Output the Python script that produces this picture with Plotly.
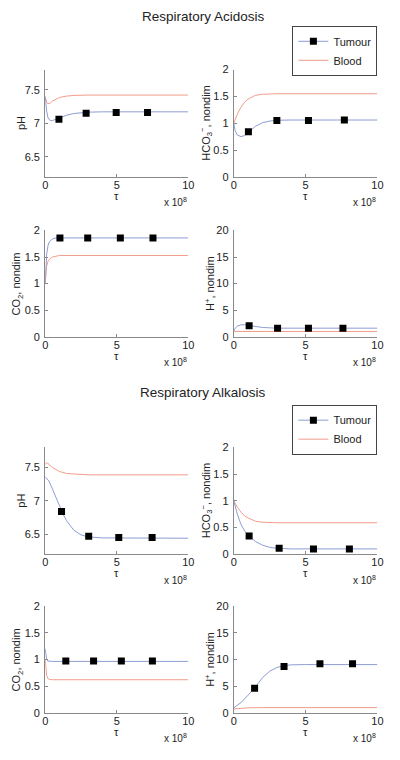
import plotly.graph_objects as go

# ---------------- data (tau in units of 1e8) ----------------
# Respiratory Acidosis
acid_ph_tau_t = [0, 0.1, 0.2, 0.35, 0.5, 0.75, 1.0, 1.5, 2.0, 2.5, 3, 4, 6, 10]
acid_ph_tumour = [7.40, 7.18, 7.08, 7.04, 7.04, 7.06, 7.08, 7.12, 7.145, 7.16, 7.165, 7.17, 7.17, 7.17]
acid_ph_tau_b = [0, 0.1, 0.2, 0.35, 0.5, 0.75, 1.0, 1.5, 2.0, 3, 10]
acid_ph_blood = [7.40, 7.31, 7.29, 7.30, 7.33, 7.36, 7.385, 7.405, 7.415, 7.42, 7.42]
acid_ph_mk_tau = [0.96, 2.86, 4.96, 7.15]
acid_ph_mk = [7.06, 7.15, 7.16, 7.16]

acid_hco3_tau_t = [0, 0.1, 0.25, 0.5, 0.75, 1.0, 1.5, 2.0, 2.5, 3, 4, 10]
acid_hco3_tumour = [1.0, 0.86, 0.78, 0.75, 0.77, 0.82, 0.94, 1.01, 1.04, 1.055, 1.06, 1.06]
acid_hco3_tau_b = [0, 0.25, 0.5, 0.75, 1.0, 1.5, 2.0, 2.5, 3, 10]
acid_hco3_blood = [1.0, 1.17, 1.30, 1.39, 1.45, 1.52, 1.54, 1.55, 1.55, 1.55]
acid_hco3_mk_tau = [1.02, 3.0, 5.2, 7.7]
acid_hco3_mk = [0.84, 1.05, 1.05, 1.06]

acid_co2_tau = [0, 0.05, 0.1, 0.2, 0.3, 0.5, 0.75, 1.0, 10]
acid_co2_tumour = [1.0, 1.35, 1.55, 1.72, 1.79, 1.84, 1.86, 1.86, 1.86]
acid_co2_blood = [1.0, 1.22, 1.33, 1.42, 1.46, 1.50, 1.52, 1.53, 1.53]
acid_co2_mk_tau = [1.03, 2.97, 5.25, 7.53]
acid_co2_mk = [1.86, 1.86, 1.86, 1.86]

acid_h_tau_t = [0, 0.1, 0.25, 0.5, 0.75, 1.0, 1.5, 2.0, 2.5, 3, 10]
acid_h_tumour = [1.1, 1.6, 2.0, 2.25, 2.25, 2.15, 1.9, 1.75, 1.68, 1.62, 1.62]
acid_h_tau_b = [0, 0.5, 1, 2, 10]
acid_h_blood = [1.0, 1.0, 1.0, 1.0, 1.0]
acid_h_mk_tau = [1.07, 3.05, 5.2, 7.6]
acid_h_mk = [2.05, 1.6, 1.6, 1.6]

# Respiratory Alkalosis
alk_ph_tau_t = [0, 0.25, 0.5, 0.75, 1.0, 1.25, 1.5, 1.75, 2.0, 2.5, 3.0, 4, 10]
alk_ph_tumour = [7.36, 7.30, 7.18, 7.05, 6.92, 6.80, 6.70, 6.62, 6.56, 6.49, 6.46, 6.445, 6.44]
alk_ph_tau_b = [0, 0.15, 0.5, 1.0, 1.5, 2.0, 3, 10]
alk_ph_blood = [7.55, 7.57, 7.50, 7.44, 7.41, 7.40, 7.39, 7.39]
alk_ph_mk_tau = [1.14, 3.04, 5.14, 7.47]
alk_ph_mk = [6.84, 6.47, 6.45, 6.45]

alk_hco3_tau = [0, 0.25, 0.5, 0.75, 1.0, 1.5, 2.0, 2.5, 3, 4, 10]
alk_hco3_tumour = [1.0, 0.75, 0.56, 0.44, 0.36, 0.24, 0.17, 0.13, 0.11, 0.10, 0.10]
alk_hco3_blood = [1.0, 0.88, 0.79, 0.72, 0.68, 0.62, 0.60, 0.59, 0.59, 0.59, 0.59]
alk_hco3_mk_tau = [1.07, 3.16, 5.55, 8.05]
alk_hco3_mk = [0.34, 0.11, 0.10, 0.10]

alk_co2_tau = [0, 0.05, 0.1, 0.2, 0.3, 0.5, 10]
alk_co2_tumour = [1.2, 1.08, 1.01, 0.97, 0.965, 0.965, 0.965]
alk_co2_blood = [1.0, 0.80, 0.70, 0.64, 0.625, 0.62, 0.62]
alk_co2_mk_tau = [1.44, 3.38, 5.32, 7.49]
alk_co2_mk = [0.97, 0.97, 0.97, 0.97]

alk_h_tau_t = [0, 0.5, 1.0, 1.5, 2.0, 2.5, 3.0, 3.5, 4.0, 5, 10]
alk_h_tumour = [0.9, 1.9, 3.3, 4.8, 6.6, 7.8, 8.5, 8.85, 9.0, 9.05, 9.05]
alk_h_tau_b = [0, 0.5, 1.0, 2.0, 10]
alk_h_blood = [0.7, 0.85, 0.92, 0.95, 0.95]
alk_h_mk_tau = [1.45, 3.5, 6.0, 8.27]
alk_h_mk = [4.6, 8.7, 9.2, 9.2]

ph_ticks = [6.5, 7, 7.5]
frac_ticks = [0, 0.5, 1, 1.5, 2]
h_ticks = [0, 5, 10, 15, 20]
tau_ticks = [0, 5, 10]

# ---------------- styling ----------------
BLUE = "#8c9dd2"
RED = "#f29c8a"
FONT = "Liberation Sans, Arial, sans-serif"
TXT = "#222222"
AXC = "#8a8a8a"
OFF = 8                      # default page body margin
WIN_W, WIN_H = 400, 760
W, H = WIN_W - OFF, WIN_H - OFF

# pixel geometry of panels in window coordinates
XL = (43, 189.5)
XR = (236, 383)
ROWS = [(64.5, 173.5), (228, 336), (448.5, 557), (610, 718)]

panels = [
    (acid_ph_tau_t, acid_ph_tumour, acid_ph_tau_b, acid_ph_blood, acid_ph_mk_tau, acid_ph_mk, [6.2, 7.8], ph_ticks, "pH", XL, ROWS[0], 18),
    (acid_hco3_tau_t, acid_hco3_tumour, acid_hco3_tau_b, acid_hco3_blood, acid_hco3_mk_tau, acid_hco3_mk, [0, 2], frac_ticks, "HCO<sub>3</sub><sup>−</sup>, nondim", XR, ROWS[0], 208),
    (acid_co2_tau, acid_co2_tumour, acid_co2_tau, acid_co2_blood, acid_co2_mk_tau, acid_co2_mk, [0, 2], frac_ticks, "CO<sub>2</sub>, nondim", XL, ROWS[1], 14),
    (acid_h_tau_t, acid_h_tumour, acid_h_tau_b, acid_h_blood, acid_h_mk_tau, acid_h_mk, [0, 20], h_ticks, "H<sup>+</sup>, nondim", XR, ROWS[1], 211),
    (alk_ph_tau_t, alk_ph_tumour, alk_ph_tau_b, alk_ph_blood, alk_ph_mk_tau, alk_ph_mk, [6.2, 7.8], ph_ticks, "pH", XL, ROWS[2], 18),
    (alk_hco3_tau, alk_hco3_tumour, alk_hco3_tau, alk_hco3_blood, alk_hco3_mk_tau, alk_hco3_mk, [0, 2], frac_ticks, "HCO<sub>3</sub><sup>−</sup>, nondim", XR, ROWS[2], 208),
    (alk_co2_tau, alk_co2_tumour, alk_co2_tau, alk_co2_blood, alk_co2_mk_tau, alk_co2_mk, [0, 2], frac_ticks, "CO<sub>2</sub>, nondim", XL, ROWS[3], 14),
    (alk_h_tau_t, alk_h_tumour, alk_h_tau_b, alk_h_blood, alk_h_mk_tau, alk_h_mk, [0, 20], h_ticks, "H<sup>+</sup>, nondim", XR, ROWS[3], 211),
]

fig = go.Figure()
layout = dict(
    width=W, height=H, autosize=False,
    margin=dict(l=0, r=0, t=0, b=0),
    paper_bgcolor="white", plot_bgcolor="white",
    font=dict(family=FONT, size=11, color=TXT),
    showlegend=True,
)
annotations = []

def px_x(p):
    return (p - OFF) / W

def px_y(p):
    return 1 - (p - OFF) / H

for i, (tt, tv, tb, bv, mt, mv, yr, yt, ytitle, xs, ys, ytx) in enumerate(panels, start=1):
    xa = "x" if i == 1 else f"x{i}"
    ya = "y" if i == 1 else f"y{i}"
    fig.add_trace(go.Scatter(x=tb, y=bv, mode="lines", line=dict(color=RED, width=1),
                             xaxis=xa, yaxis=ya, showlegend=False, hoverinfo="skip"))
    fig.add_trace(go.Scatter(x=tt, y=tv, mode="lines", line=dict(color=BLUE, width=1),
                             xaxis=xa, yaxis=ya, showlegend=False, hoverinfo="skip"))
    fig.add_trace(go.Scatter(x=mt, y=mv, mode="markers",
                             marker=dict(symbol="square", size=7, color="black"),
                             xaxis=xa, yaxis=ya, showlegend=False, hoverinfo="skip"))
    xkey = "xaxis" if i == 1 else f"xaxis{i}"
    ykey = "yaxis" if i == 1 else f"yaxis{i}"
    layout[xkey] = dict(domain=[px_x(xs[0]), px_x(xs[1])], anchor=ya, range=[0, 10],
                        tickvals=tau_ticks, showline=True, linecolor=AXC, linewidth=1,
                        ticks="inside", ticklen=3, tickcolor=AXC, showgrid=False, zeroline=False,
                        tickfont=dict(size=11, color=TXT), ticklabelstandoff=-2)
    layout[ykey] = dict(domain=[px_y(ys[1]), px_y(ys[0])], anchor=xa, range=yr,
                        tickvals=yt, showline=True, linecolor=AXC, linewidth=1,
                        ticks="inside", ticklen=3, tickcolor=AXC, showgrid=False, zeroline=False,
                        tickfont=dict(size=11, color=TXT), ticklabelstandoff=2)
    # y title
    annotations.append(dict(xref="paper", yref="paper", x=px_x(ytx), y=px_y((ys[0] + ys[1]) / 2),
                            text=ytitle, textangle=-90, showarrow=False,
                            xanchor="center", yanchor="middle", font=dict(size=11, color=TXT)))
    # x title
    annotations.append(dict(xref="paper", yref="paper", x=px_x((xs[0] + xs[1]) / 2), y=px_y(ys[1] + 19.5),
                            text="τ", showarrow=False, xanchor="center", yanchor="middle",
                            font=dict(size=11, color=TXT)))
    # exponent
    annotations.append(dict(xref="paper", yref="paper", x=px_x(xs[1] + 1), y=px_y(ys[1] + 26),
                            text="x 10<sup>8</sup>", showarrow=False, xanchor="right", yanchor="middle",
                            font=dict(size=10, color=TXT)))

# section titles
annotations.append(dict(xref="paper", yref="paper", x=px_x(205), y=px_y(11), text="Respiratory Acidosis",
                        showarrow=False, xanchor="center", yanchor="middle", font=dict(size=13.5, color=TXT)))
annotations.append(dict(xref="paper", yref="paper", x=px_x(205), y=px_y(393), text="Respiratory Alkalosis",
                        showarrow=False, xanchor="center", yanchor="middle", font=dict(size=13.5, color=TXT)))

# legend entries (legend-only traces)
for leg in ["legend", "legend2"]:
    fig.add_trace(go.Scatter(x=[None], y=[None], mode="lines+markers", name="Tumour",
                             line=dict(color=BLUE, width=1),
                             marker=dict(symbol="square", size=7, color="black"),
                             legend=leg, showlegend=True))
    fig.add_trace(go.Scatter(x=[None], y=[None], mode="lines", name="Blood",
                             line=dict(color=RED, width=1), legend=leg, showlegend=True))

leg_common = dict(xref="paper", yref="paper", xanchor="right", yanchor="top",
                  bgcolor="white", bordercolor="#444444", borderwidth=1,
                  font=dict(size=11, color=TXT), itemwidth=30, tracegroupgap=0)
layout["legend"] = dict(x=px_x(383), y=px_y(20), **leg_common)
layout["legend2"] = dict(x=px_x(383), y=px_y(405), **leg_common)
layout["annotations"] = annotations

fig.update_layout(**layout)
fig.write_html("out.html")
